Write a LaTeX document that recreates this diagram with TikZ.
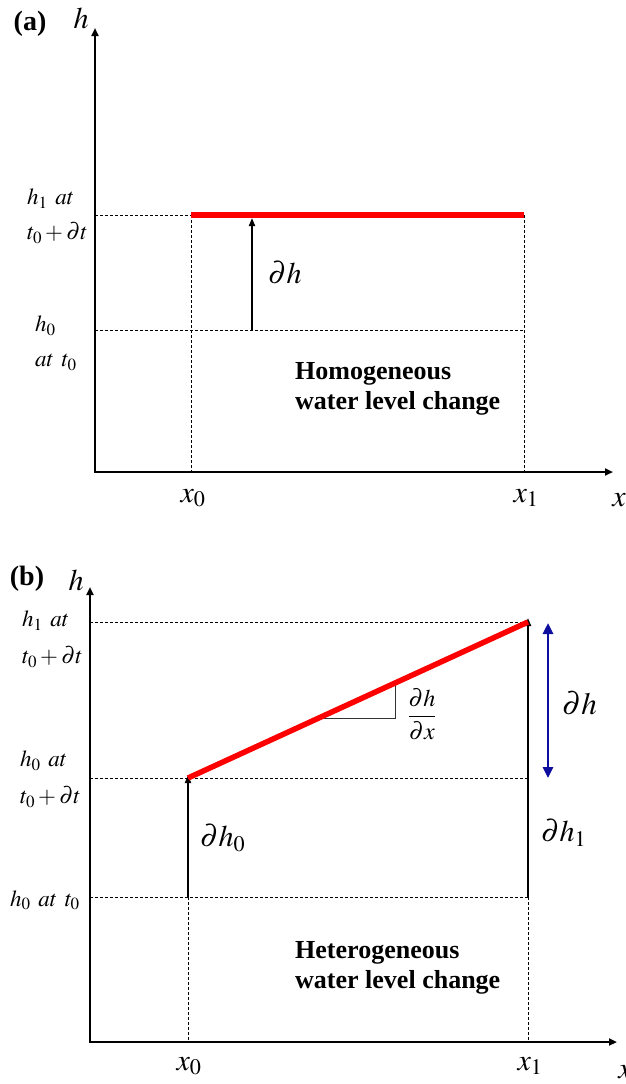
\documentclass[tikz,border=0pt]{standalone}
\usepackage{mathptmx}
\usepackage{fontspec}
\setmainfont{Liberation Serif}
\usetikzlibrary{arrows.meta,positioning}
\definecolor{levelred}{rgb}{1.00,0.00,0.00}
\definecolor{deltablue}{rgb}{0.05,0.05,0.62}
\tikzset{
  axis/.style={line width=2.4pt, line join=miter,
    {Triangle[length=8pt,width=7pt]}-{Triangle[length=8pt,width=7pt]}},
  guide/.style={line width=0.8pt, dash pattern=on 3pt off 2pt},
  level/.style={line width=5.5pt, levelred},
  rise/.style={line width=1.8pt, -{Triangle[length=8pt,width=6pt]}},
  lab/.style={font=\fontsize{23}{35}\selectfont, inner sep=0pt, align=left, anchor=west},
  big/.style={font=\fontsize{30}{34}\selectfont, inner sep=0pt},
  note/.style={font=\fontsize{26}{30}\selectfont\bfseries, inner sep=0pt, align=left, anchor=west},
  tag/.style={font=\fontsize{28}{32}\selectfont\bfseries, inner sep=0pt}
}
\newcommand{\pd}{\partial}

\begin{document}
\begin{tikzpicture}[x=1pt,y=-1pt]
  \useasboundingbox (0,0) rectangle (625,1084);

  % (a) homogeneous change
  \coordinate (ao) at (95,472);
  \coordinate (atop) at (95,28);
  \coordinate (aend) at (613,472);
  \coordinate (ah1) at (95,215);
  \coordinate (ah0) at (95,330);
  \coordinate (ax0t) at (191,215);
  \coordinate (ax0b) at (191,472);
  \coordinate (ax1t) at (524,215);
  \coordinate (ax1b) at (524,472);
  \coordinate (ah0r) at (524,330);
  \coordinate (adhb) at (252,330);
  \coordinate (adht) at (252,218);

  \draw[guide] (ah1) -- (ax0t);
  \draw[guide] (ah0) -- (ah0r);
  \draw[guide] (ax0t) -- (ax0b);
  \draw[guide] (ax1t) -- (ax1b);
  \draw[axis] (atop) -- (ao) -- (aend);
  \draw[level] (ax0t) -- (ax1t);
  \draw[rise] (adhb) -- (adht);

  \node[tag] (atag) at (30,24) {(a)};
  \node[big] (ahlab) at (81,18) {$h$};
  \node[lab] (ah1lab) at (27,216) {$h_1\;\,at$\\$t_0+\pd t$};
  \node[lab] (ah0lab) at (35,343) {$h_0$\\$at\;\,t_0$};
  \node[big, anchor=west] (adh) at (268,273) {$\pd h$};
  \node[note] (anote) at (295,389) {Homogeneous\\water level change};
  \node[big] (ax0lab) at (193,498) {$x_0$};
  \node[big] (ax1lab) at (526,498) {$x_1$};
  \node[big] (axlab) at (619,500) {$x$};

  % (b) heterogeneous change
  \coordinate (bo) at (90,1042);
  \coordinate (btop) at (90,587);
  \coordinate (bend) at (617,1042);
  \coordinate (bh1) at (90,622);
  \coordinate (bh0n) at (90,778);
  \coordinate (bh0) at (90,897);
  \coordinate (bx0m) at (188,778);
  \coordinate (bx0b) at (188,897);
  \coordinate (bx0a) at (188,1042);
  \coordinate (bx1t) at (528,622);
  \coordinate (bx1m) at (528,778);
  \coordinate (bx1b) at (528,897);
  \coordinate (bx1a) at (528,1042);
  \coordinate (bdt) at (548,623);
  \coordinate (bdb) at (548,778);
  \coordinate (bs1) at (323,718);
  \coordinate (bs2) at (395,718);
  \coordinate (bs3) at (395,684);

  \draw[guide] (bh1) -- (bx1t);
  \draw[guide] (bh0n) -- (bx1m);
  \draw[guide] (bh0) -- (bx1b);
  \draw[guide] (bx0b) -- (bx0a);
  \draw[guide] (bx1b) -- (bx1a);
  \draw[axis] (btop) -- (bo) -- (bend);
  \draw[line width=0.8pt, black!80] (bs1) -- (bs2) -- (bs3);
  \draw[rise] (bx0b) -- ([yshift=3pt]bx0m);
  \draw[rise] (bx1b) -- ([yshift=4pt]bx1t);
  \draw[level] (bx0m) -- (bx1t);
  \draw[line width=2.6pt, deltablue,
    {Triangle[length=11pt,width=10pt]}-{Triangle[length=11pt,width=10pt]}] (bdt) -- (bdb);

  \node[tag] (btag) at (27,579) {(b)};
  \node[big] (bhlab) at (76,580) {$h$};
  \node[lab, font=\fontsize{23}{37}\selectfont] (bh1lab) at (22,639) {$h_1\;\,at$\\$t_0+\pd t$};
  \node[lab, font=\fontsize{23}{37}\selectfont] (bh0nlab) at (20,779) {$h_0\;\,at$\\$t_0+\pd t$};
  \node[lab] (bh0lab) at (10,900) {$h_0\;\,at\;\,t_0$};
  \node[big, anchor=west] (bdh0) at (200,838) {$\pd h_0$};
  \node[big, anchor=west] (bdh1) at (541,833) {$\pd h_1$};
  \node[big, anchor=west, font=\fontsize{31}{36}\selectfont] (bdh) at (562,703) {$\pd h$};
  \node[big, font=\fontsize{24}{28}\selectfont] (bslope) at (422,714) {$\displaystyle\frac{\pd h}{\pd x}$};
  \node[note] (bnote) at (295,968) {Heterogeneous\\water level change};
  \node[big] (bx0lab) at (189,1066) {$x_0$};
  \node[big] (bx1lab) at (530,1066) {$x_1$};
  \node[big] (bxlab) at (625,1072) {$x$};
\end{tikzpicture}
\end{document}
